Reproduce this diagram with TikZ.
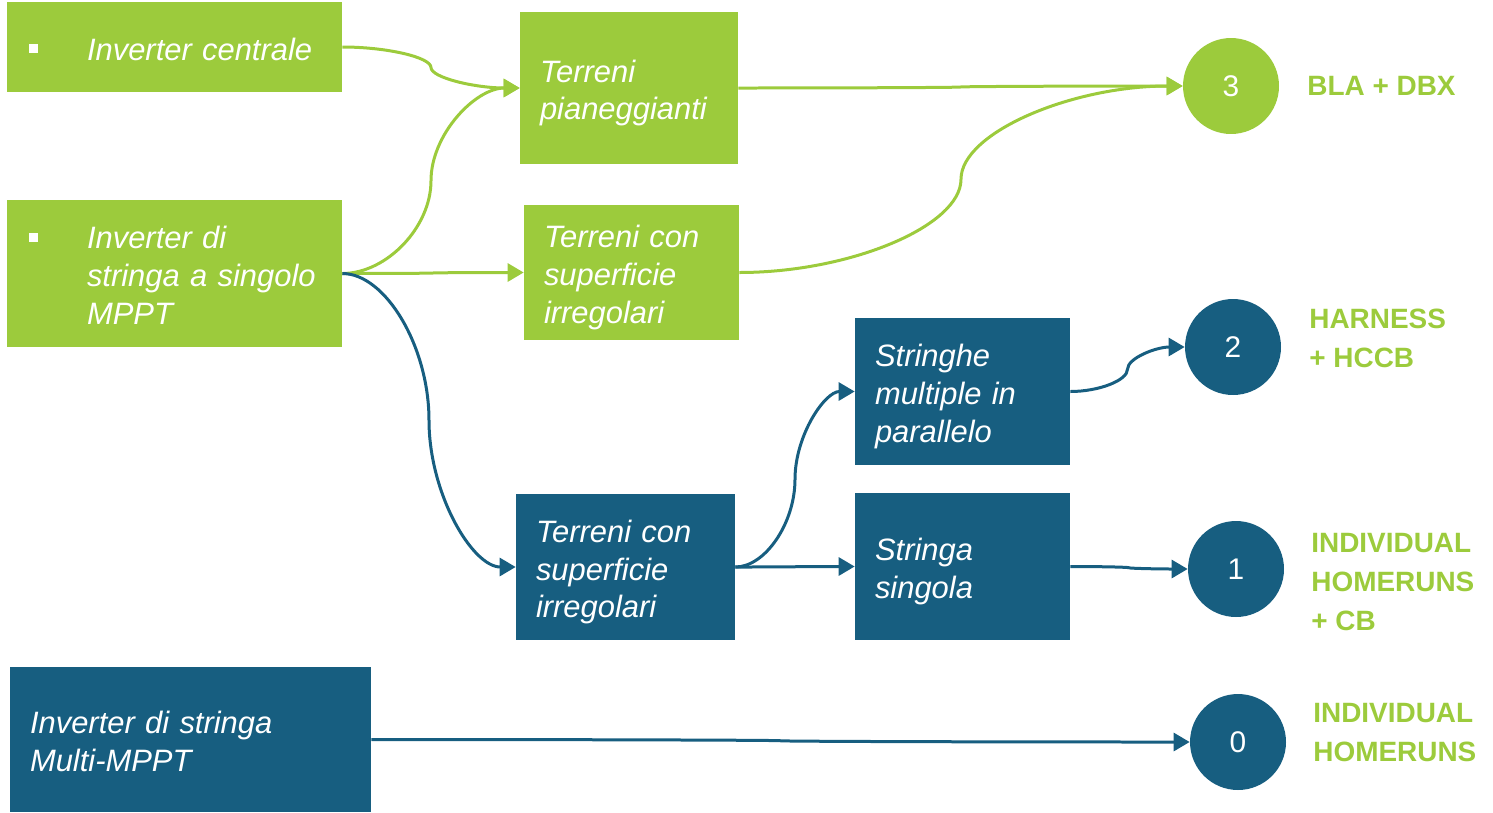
\documentclass[tikz,border=0pt]{standalone}
\usepackage{fontspec}
\setmainfont{Liberation Sans}
\usetikzlibrary{arrows.meta,calc}
\definecolor{cgreen}{RGB}{156,203,60}
\definecolor{cblue}{RGB}{23,94,128}
\newcommand{\bul}{\llap{\rule[0.14cm]{0.18cm}{0.18cm}\hspace{0.98cm}}}

\begin{document}
\begin{tikzpicture}
[x=0.02cm, y=-0.02cm,%
  boxDecorate/.style={shape=rectangle, inner xsep=0.4cm, inner ysep=0pt, align=left,
    text=white, font=\fontsize{17.6pt}{21.6pt}\selectfont\itshape,
    execute at begin node={\rule{0pt}{0.65cm}},
    execute at end node={\rule[-0.13cm]{0pt}{0.13cm}\endgraf}},%
  bulletDecorate/.style={execute at begin node={\leftskip=1.2cm\bul}},%
  circDecorate/.style={shape=circle, minimum size=1.92cm, inner sep=0pt, text=white,
    font=\fontsize{17pt}{20pt}\selectfont},%
  labelDecorate/.style={anchor=west, inner sep=0pt, align=left, text=cgreen,
    font=\fontsize{15.9pt}{22.2pt}\selectfont\bfseries},%
  lineDecorate/.style={line width=0.06cm, -{Triangle[length=0.32cm,width=0.36cm]},
    to path={let \p1=(\tikztostart), \p2=(\tikztotarget) in
      .. controls ({(3*\x1+\x2)/4},\y1) and ({(\x1+\x2)/2},{(3*\y1+\y2)/4})
      .. ({(\x1+\x2)/2},{(\y1+\y2)/2})
      .. controls ({(\x1+\x2)/2},{(\y1+3*\y2)/4}) and ({(\x1+3*\x2)/4},\y2)
      .. (\p2) \tikztonodes}}]
\useasboundingbox (0,0) rectangle (1493,812);
%% boxes
\node (invC) at (174.5,47) [boxDecorate, bulletDecorate, fill=cgreen, minimum width=6.7cm,
  minimum height=1.8cm, text width=5.9cm] {Inverter centrale};
\node (invS) at (174.5,273.5) [boxDecorate, bulletDecorate, fill=cgreen, minimum width=6.7cm,
  minimum height=2.94cm, text width=5.9cm] {Inverter di\\stringa a singolo\\MPPT};
\node (terP) at (629,88) [boxDecorate, fill=cgreen, minimum width=4.36cm,
  minimum height=3.04cm, text width=3.56cm] {Terreni\\pianeggianti};
\node (terIg) at (631.5,272.5) [boxDecorate, fill=cgreen, minimum width=4.3cm,
  minimum height=2.7cm, text width=3.5cm] {Terreni con\\superficie\\irregolari};
\node (terIb) at (625.5,567) [boxDecorate, fill=cblue, minimum width=4.38cm,
  minimum height=2.92cm, text width=3.58cm] {Terreni con\\superficie\\irregolari};
\node (strM) at (962.5,391.5) [boxDecorate, fill=cblue, minimum width=4.3cm,
  minimum height=2.94cm, text width=3.5cm] {Stringhe\\multiple in\\parallelo};
\node (strS) at (962.5,566.5) [boxDecorate, fill=cblue, minimum width=4.3cm,
  minimum height=2.94cm, text width=3.5cm] {Stringa\\singola};
\node (invM) at (190.5,739.5) [boxDecorate, fill=cblue, minimum width=7.22cm,
  minimum height=2.9cm, text width=6.42cm] {Inverter di stringa\\Multi-MPPT};
%% levels
\foreach \nodename/\x/\y/\col/\num in {
  n3/1231/86/cgreen/3, n2/1233/347/cblue/2, n1/1236/569/cblue/1, n0/1238/742/cblue/0}
{
  \node (\nodename) at (\x,\y) [circDecorate, fill=\col] {\num};
}
\foreach \nodename/\x/\y/\txt in {
  lab3/1307/86/{BLA + DBX}, lab2/1309/338/{HARNESS\\+ HCCB},
  lab1/1311/582/{INDIVIDUAL\\HOMERUNS\\+ CB}, lab0/1313/733/{INDIVIDUAL\\HOMERUNS}}
{
  \node (\nodename) at (\x,\y) [labelDecorate] {\txt};
}
%% connectors
\path
\foreach \startnode/\endnode/\col in {
  invC.east/terP.west/cgreen, invS.east/terP.west/cgreen, invS.east/terIg.west/cgreen,
  terP.east/n3.west/cgreen, terIg.east/n3.west/cgreen, invS.east/terIb.west/cblue,
  terIb.east/strM.west/cblue, terIb.east/strS.west/cblue, strM.east/n2.west/cblue,
  strS.east/n1.west/cblue, invM.east/n0.west/cblue}
{
  (\startnode) edge[lineDecorate, draw=\col] (\endnode)
};
\end{tikzpicture}
\end{document}
